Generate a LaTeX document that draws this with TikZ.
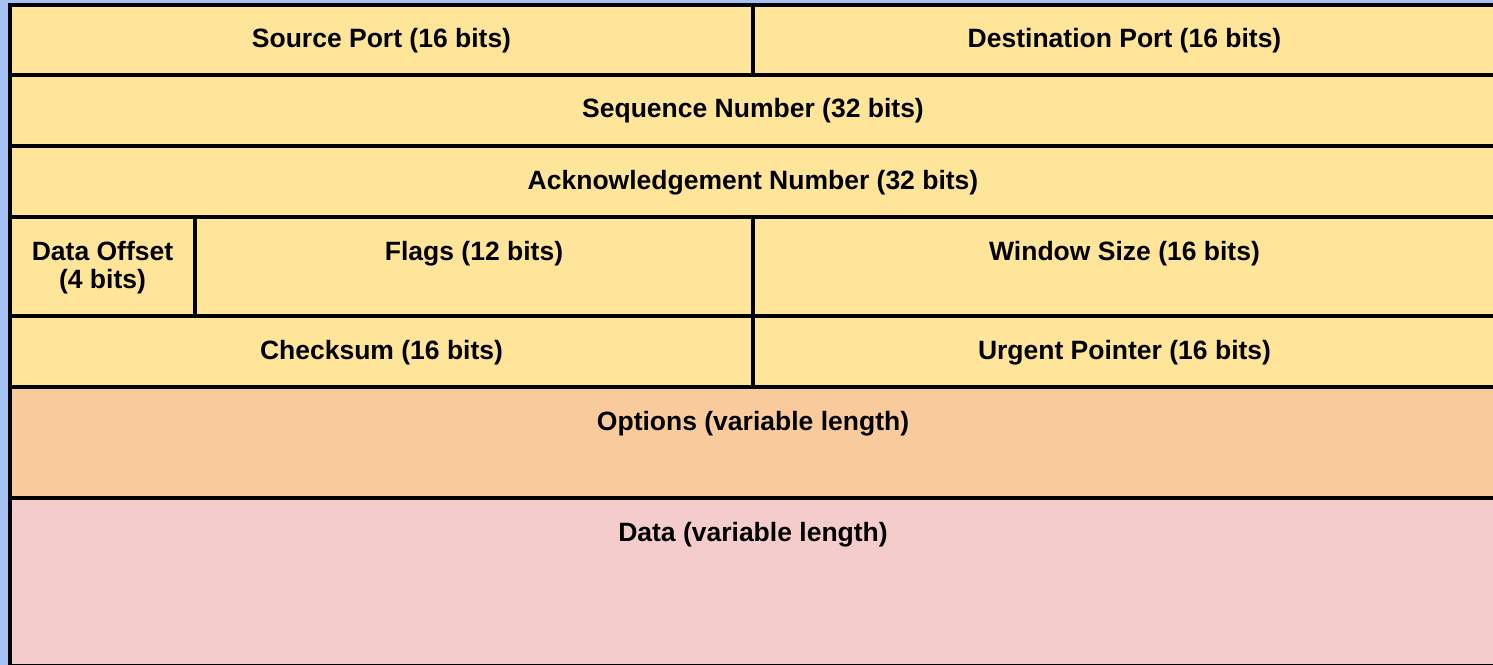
\documentclass[tikz,border=0pt]{standalone}
\usepackage{fontspec}
\setmainfont{Liberation Sans}
\usetikzlibrary{calc}
\definecolor{bgblue}{HTML}{A4C2F4}
\definecolor{hdryellow}{HTML}{FFE599}
\definecolor{optorange}{HTML}{F9CB9C}
\definecolor{datapink}{HTML}{F4CCCC}
\begin{document}
\begin{tikzpicture}[x=1bp,y=-1bp,
  field/.style={rectangle, draw=black, line width=4bp, fill=hdryellow,
    inner sep=0pt, outer sep=0pt, anchor=north west},
  lbl/.style={font=\bfseries\fontsize{26.5bp}{28bp}\selectfont, anchor=base,
    align=center, inner sep=0pt, text=black}]
  % page and background
  \fill[bgblue] (0,0) rectangle (1493,665);
  \useasboundingbox (0,0) rectangle (1493,665);

  % header fields, one row per 32-bit word
  \node[field, minimum width=743bp, minimum height=70.3bp] (src) at (10,4.7) {};
  \node[field, minimum width=743bp, minimum height=70.3bp] (dst) at (753,4.7) {};
  \node[field, minimum width=1486bp, minimum height=71bp] (seq) at (10,75) {};
  \node[field, minimum width=1486bp, minimum height=71bp] (ack) at (10,146) {};
  \node[field, minimum width=185bp, minimum height=99bp] (doff) at (10,217) {};
  \node[field, minimum width=558bp, minimum height=99bp] (flags) at (195,217) {};
  \node[field, minimum width=743bp, minimum height=99bp] (win) at (753,217) {};
  \node[field, minimum width=743bp, minimum height=71bp] (cks) at (10,316) {};
  \node[field, minimum width=743bp, minimum height=71bp] (urg) at (753,316) {};
  \node[field, fill=optorange, minimum width=1486bp, minimum height=111bp] (opt) at (10,387) {};
  \node[field, fill=datapink, minimum width=1486bp, minimum height=168bp] (data) at (10,498) {};

  % field names, set near the top of each cell
  \node[lbl] (srcL) at ($(src.north)+(0,43)$) {Source Port (16 bits)};
  \node[lbl] (dstL) at ($(dst.north)+(0,43)$) {Destination Port (16 bits)};
  \node[lbl] (seqL) at ($(seq.north)+(0,43)$) {Sequence Number (32 bits)};
  \node[lbl] (ackL) at ($(ack.north)+(0,43)$) {Acknowledgement Number (32 bits)};
  % two-line label: base sits on the second line
  \node[lbl] (doffL) at ($(doff.north)+(0,71)$) {Data Offset\\(4 bits)};
  \node[lbl] (flagsL) at ($(flags.north)+(0,43)$) {Flags (12 bits)};
  \node[lbl] (winL) at ($(win.north)+(0,43)$) {Window Size (16 bits)};
  \node[lbl] (cksL) at ($(cks.north)+(0,43)$) {Checksum (16 bits)};
  \node[lbl] (urgL) at ($(urg.north)+(0,43)$) {Urgent Pointer (16 bits)};
  \node[lbl] (optL) at ($(opt.north)+(0,43)$) {Options (variable length)};
  \node[lbl] (dataL) at ($(data.north)+(0,43)$) {Data (variable length)};
\end{tikzpicture}
\end{document}
